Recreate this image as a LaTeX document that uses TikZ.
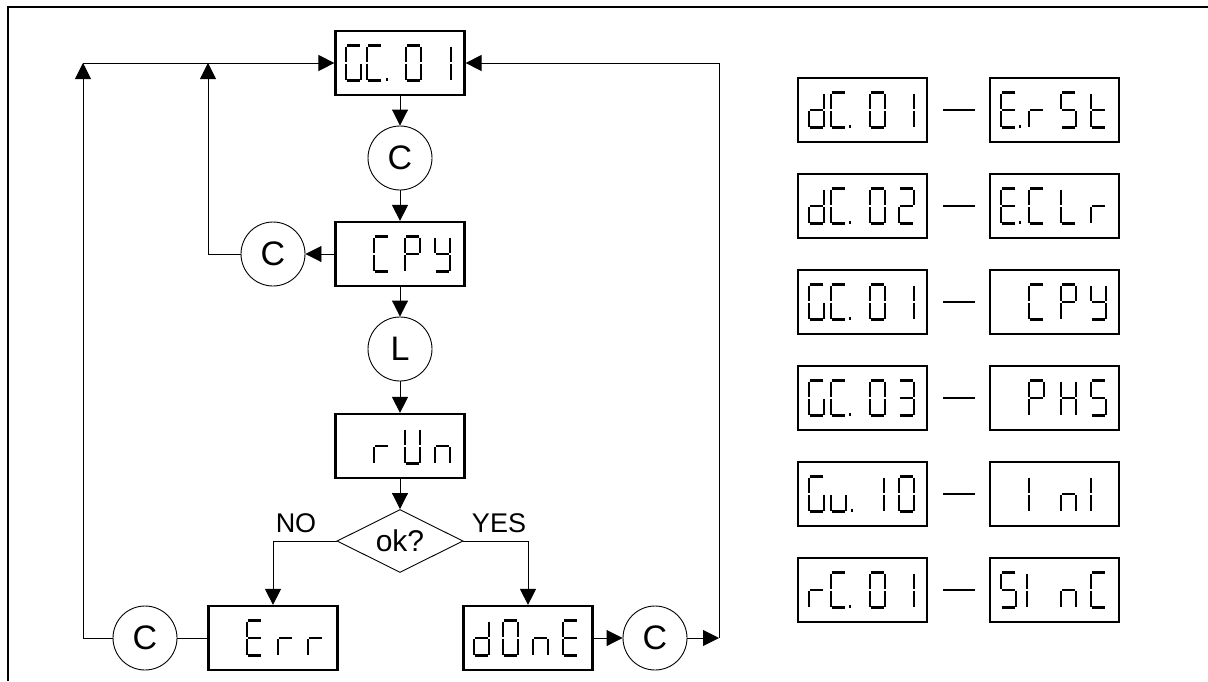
\documentclass[tikz,border=0pt]{standalone}
\usepackage{fontspec}
\setmainfont{Liberation Sans}
\usetikzlibrary{arrows.meta,shapes.geometric,calc}
% seven-segment pieces (cell 15 x 35, origin top-left, y down)
\def\sgma{\draw[seg] (1,0)--(14,0);}
\def\sgmb{\draw[seg] (15,1)--(15,16.8);}
\def\sgmc{\draw[seg] (15,18.2)--(15,34);}
\def\sgmd{\draw[seg] (1,35)--(14,35);}
\def\sgme{\draw[seg] (0,18.2)--(0,34);}
\def\sgmf{\draw[seg] (0,1)--(0,16.8);}
\def\sgmg{\draw[seg] (1,17.5)--(14,17.5);}
\expandafter\def\csname sgl0\endcsname{a,b,c,d,e,f}
\expandafter\def\csname sgl1\endcsname{b,c}
\expandafter\def\csname sgl2\endcsname{a,b,g,e,d}
\expandafter\def\csname sgl3\endcsname{a,b,g,c,d}
\expandafter\def\csname sglG\endcsname{a,f,e,d,c}
\expandafter\def\csname sglC\endcsname{a,f,e,d}
\expandafter\def\csname sgld\endcsname{b,c,d,e,g}
\expandafter\def\csname sglE\endcsname{a,f,g,e,d}
\expandafter\def\csname sglr\endcsname{e,g}
\expandafter\def\csname sglS\endcsname{a,f,g,c,d}
\expandafter\def\csname sglt\endcsname{f,e,g,d}
\expandafter\def\csname sglL\endcsname{f,e,d}
\expandafter\def\csname sglP\endcsname{a,b,f,g,e}
\expandafter\def\csname sgly\endcsname{f,g,b,c,d}
\expandafter\def\csname sglU\endcsname{f,e,d,b,c}
\expandafter\def\csname sgln\endcsname{e,g,c}
\expandafter\def\csname sglH\endcsname{b,c,e,f,g}
\expandafter\def\csname sglu\endcsname{c,d,e}
\expandafter\def\csname sglI\endcsname{e,f}
\newcommand\sschr[3]{%
  \begin{scope}[shift={($(#1.west)+(#2,-17.5)$)}]
    \edef\seglist{\csname sgl#3\endcsname}%
    \foreach \s in \seglist {\csname sgm\s\endcsname}
  \end{scope}}
\newcommand\ssdisp[2]{\foreach \o/\c in {#2} {\sschr{#1}{\o}{\c}}}
\newcommand\ssdot[2]{\draw[seg] ($(#1.west)+(#2,14.5)$) -- ++(0,3);}
\begin{document}
\begin{tikzpicture}[x=1pt,y=-1pt,
  seg/.style={line width=2.1pt},
  box/.style={draw,line width=2.2pt,minimum width=129pt,minimum height=64pt,inner sep=0pt},
  circ/.style={draw,circle,line width=0.9pt,minimum size=64pt,inner sep=0pt,font=\fontsize{34}{36}\selectfont},
  arr/.style={line width=0.9pt,-{Triangle[length=16pt,width=16pt]}},
  conn/.style={line width=0.9pt},
  dashl/.style={line width=1.6pt},
  lbl/.style={font=\fontsize{27}{29}\selectfont,inner sep=0pt}]
\useasboundingbox (0,0) rectangle (1208,681);
\draw[line width=1.5pt] (1208,7) -- (8,7) -- (8,681);

% flow chart
\node[box] (gc01) at (400,63) {};
\node[circ] (c1) at (400,158) {C};
\node[box] (cpy) at (400,254) {};
\node[circ] (cl) at (273,254) {C};
\node[circ] (lc) at (400,349) {L};
\node[box] (run) at (400,446) {};
\node[diamond,draw,line width=0.9pt,minimum width=126pt,minimum height=63pt,inner sep=0pt,aspect=2,font=\fontsize{30}{32}\selectfont] (ok) at (400,541) {ok?};
\node[box] (err) at (273,638) {};
\node[box] (done) at (528,638) {};
\node[circ] (cerr) at (145,638) {C};
\node[circ] (cdone) at (655,638) {C};
\node[lbl] (no) at (296,523) {NO};
\node[lbl] (yes) at (499,523) {YES};
\coordinate (tl1) at (83,63);
\coordinate (tl2) at (208,63);
\coordinate (tr) at (719,63);
\coordinate (br) at (719,638);

\draw[arr] (gc01) -- (c1);
\draw[arr] (c1) -- (cpy);
\draw[arr] (cpy) -- (cl);
\draw[arr] (cl.west) -| (tl2);
\draw[arr] (cpy) -- (lc);
\draw[arr] (lc) -- (run);
\draw[arr] (run) -- (ok);
\draw[arr] (ok.west) -| (err.north);
\draw[arr] (ok.east) -| (done.north);
\draw[conn] (err) -- (cerr);
\draw[arr] (cerr.west) -| (tl1);
\draw[arr] (tl1) -- (gc01.west);
\draw[arr] (done) -- (cdone);
\draw[arr] (cdone) -- (br);
\draw[conn] (br) -- (tr);
\draw[arr] (tr) -- (gc01.east);

\ssdisp{gc01}{12/G,33/C,72/0,102/1}\ssdot{gc01}{53}
\ssdisp{cpy}{40/C,71/P,101/y}
\ssdisp{run}{40/r,71/U,101/n}
\ssdisp{err}{40/E,71/r,101/r}
\ssdisp{done}{12/d,41/0,71/n,101/E}

% table
\foreach \i/\y in {1/110,2/206,3/302,4/398,5/494,6/590}{
  \node[box] (l\i) at (862.5,\y) {};
  \node[box] (r\i) at (1054.5,\y) {};
  \draw[dashl] ($(l\i.east)+(15,0)$) -- ($(r\i.west)+(-14,0)$);
}
\ssdisp{l1}{12/d,34/C,73/0,102/1}\ssdot{l1}{53}
\ssdisp{r1}{12/E,40/r,72/S,102/t}\ssdot{r1}{31}
\ssdisp{l2}{12/d,34/C,73/0,102/2}\ssdot{l2}{53}
\ssdisp{r2}{12/E,40/C,72/L,102/r}\ssdot{r2}{31}
\ssdisp{l3}{12/G,34/C,73/0,102/1}\ssdot{l3}{53}
\ssdisp{r3}{40/C,72/P,102/y}
\ssdisp{l4}{12/G,34/C,73/0,102/3}\ssdot{l4}{53}
\ssdisp{r4}{40/P,72/H,102/S}
\ssdisp{l5}{12/G,34/u,72/1,102/0}\ssdot{l5}{55}
\ssdisp{r5}{40/I,72/n,102/I}
\ssdisp{l6}{12/r,34/C,73/0,102/1}\ssdot{l6}{53}
\ssdisp{r6}{12/S,38/I,72/n,102/C}
\end{tikzpicture}
\end{document}
